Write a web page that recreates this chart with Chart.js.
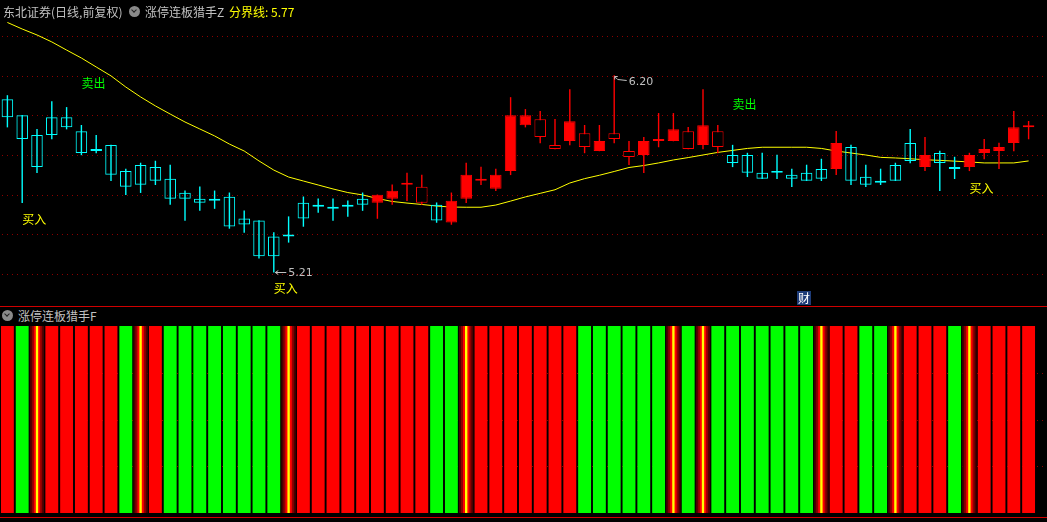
<!DOCTYPE html>
<html lang="zh">
<head>
    <meta charset="UTF-8">
    <title>涨停连板猎手</title>
    <script src="https://cdn.jsdelivr.net/npm/chart.js"></script>
    <style>
        body {
            margin: 0;
            background: #000;
            font-family: "Noto Sans CJK SC", sans-serif;
        }
        #wrap {
            position: relative;
            width: 1047px;
            height: 522px;
            overflow: hidden;
            background: #000;
        }
        canvas {
            position: absolute;
            left: 0;
        }
        .txt {
            position: absolute;
            font-size: 12px;
            line-height: 12px;
            white-space: nowrap;
            color: #c0c0c0;
        }
        .ico {
            position: absolute;
            width: 11px;
            height: 11px;
            border-radius: 50%;
            background: #8a8a8a;
        }
        .ico:after {
            content: '';
            position: absolute;
            left: 3px;
            top: 2px;
            width: 3px;
            height: 3px;
            border-right: 1.5px solid #202020;
            border-bottom: 1.5px solid #202020;
            transform: rotate(45deg);
        }
        .sep {
            position: absolute;
            left: 0;
            width: 1047px;
            height: 1px;
            background: #d00000;
        }
        .cai {
            position: absolute;
            width: 14px;
            height: 14px;
            background: #1e3c78;
            color: #fff;
            font-size: 12px;
            line-height: 14px;
            text-align: center;
        }
    </style>
</head>
<body>
<div id="wrap">
    <canvas id="kline" width="1047" height="306" style="top:0"></canvas>
    <div class="txt" style="left:3px;top:6px">东北证券(日线,前复权)</div>
    <div class="ico" style="left:129px;top:6px"></div>
    <div class="txt" style="left:145px;top:6px">涨停连板猎手Z</div>
    <div class="txt" id="fjx" style="left:229px;top:6px;color:#ffff00"></div>
    <div class="cai" style="left:797px;top:291px">财</div>

    <div class="sep" style="top:306px"></div>
    <div class="ico" style="left:2px;top:310px"></div>
    <div class="txt" style="left:18px;top:310px">涨停连板猎手F</div>
    <canvas id="fpanel" width="1047" height="187" style="top:326px"></canvas>
    <div class="sep" style="top:517px"></div>
</div>
<script>
    // daily K-line, 70 sessions
    const openP = [
        6.08, 6.00, 5.90, 5.99, 5.99, 5.92, 5.83, 5.85, 5.72, 5.75,
        5.74, 5.68, 5.61, 5.58, 5.58, 5.59, 5.48, 5.47, 5.39, 5.40,
        5.56, 5.55, 5.54, 5.55, 5.58, 5.56, 5.58, 5.65, 5.56, 5.55,
        5.46, 5.58, 5.67, 5.63, 5.72, 5.95, 5.89, 5.83, 5.87, 5.84,
        5.82, 5.88, 5.79, 5.80, 5.87, 5.87, 5.83, 5.85, 5.84, 5.80,
        5.80, 5.71, 5.72, 5.70, 5.71, 5.73, 5.73, 5.84, 5.69, 5.67,
        5.75, 5.86, 5.74, 5.81, 5.74, 5.74, 5.81, 5.82, 5.86, 5.94
    ];
    const highP = [
        6.10, 6.00, 5.93, 6.07, 6.04, 5.95, 5.90, 5.85, 5.73, 5.76,
        5.77, 5.75, 5.62, 5.64, 5.62, 5.61, 5.52, 5.47, 5.41, 5.49,
        5.59, 5.58, 5.58, 5.57, 5.61, 5.60, 5.65, 5.71, 5.70, 5.56,
        5.61, 5.76, 5.74, 5.73, 6.09, 6.03, 6.02, 5.98, 6.13, 5.95,
        5.95, 6.20, 5.87, 5.89, 6.01, 6.01, 5.94, 6.13, 5.95, 5.85,
        5.81, 5.81, 5.80, 5.73, 5.75, 5.78, 5.92, 5.85, 5.75, 5.73,
        5.76, 5.93, 5.89, 5.82, 5.79, 5.81, 5.88, 5.86, 6.02, 5.97
    ];
    const lowP = [
        5.94, 5.56, 5.71, 5.88, 5.93, 5.80, 5.81, 5.67, 5.60, 5.61,
        5.65, 5.55, 5.47, 5.52, 5.53, 5.43, 5.41, 5.28, 5.21, 5.36,
        5.44, 5.51, 5.47, 5.49, 5.52, 5.48, 5.55, 5.57, 5.55, 5.46,
        5.45, 5.56, 5.65, 5.62, 5.70, 5.94, 5.86, 5.83, 5.85, 5.81,
        5.82, 5.86, 5.75, 5.71, 5.84, 5.87, 5.83, 5.83, 5.81, 5.74,
        5.69, 5.68, 5.68, 5.64, 5.67, 5.67, 5.70, 5.65, 5.64, 5.65,
        5.67, 5.76, 5.72, 5.62, 5.68, 5.72, 5.78, 5.73, 5.82, 5.88
    ];
    const closeP = [
        5.99, 5.88, 5.74, 5.90, 5.94, 5.81, 5.82, 5.70, 5.64, 5.65,
        5.67, 5.58, 5.58, 5.56, 5.57, 5.44, 5.45, 5.29, 5.29, 5.39,
        5.48, 5.54, 5.53, 5.54, 5.55, 5.60, 5.62, 5.66, 5.64, 5.47,
        5.57, 5.70, 5.68, 5.70, 6.00, 6.00, 5.98, 5.85, 5.97, 5.91,
        5.87, 5.91, 5.82, 5.87, 5.88, 5.93, 5.92, 5.95, 5.92, 5.76,
        5.71, 5.68, 5.71, 5.68, 5.67, 5.68, 5.86, 5.67, 5.65, 5.66,
        5.67, 5.77, 5.80, 5.76, 5.73, 5.80, 5.83, 5.84, 5.94, 5.95
    ];
    // 涨停连板猎手Z strong-day flag (solid red candle)
    const zSignal = [
        0, 0, 0, 0, 0, 0, 0, 0, 0, 0,
        0, 0, 0, 0, 0, 0, 0, 0, 0, 0,
        0, 0, 0, 0, 0, 1, 1, 1, 0, 0,
        1, 1, 0, 1, 1, 1, 0, 0, 1, 0,
        1, 0, 0, 1, 1, 1, 0, 1, 0, 0,
        0, 0, 0, 0, 0, 0, 1, 0, 0, 0,
        0, 0, 1, 0, 0, 1, 1, 1, 1, 1
    ];
    // 分界线 (yellow line)
    const ma = [
        6.467, 6.434, 6.404, 6.369, 6.328, 6.288, 6.243, 6.198, 6.142, 6.092,
        6.047, 6.006, 5.966, 5.931, 5.896, 5.855, 5.820, 5.770, 5.724, 5.689,
        5.669, 5.649, 5.629, 5.611, 5.599, 5.581, 5.566, 5.558, 5.551, 5.543,
        5.538, 5.537, 5.537, 5.548, 5.568, 5.589, 5.607, 5.625, 5.659, 5.681,
        5.698, 5.717, 5.737, 5.747, 5.760, 5.775, 5.787, 5.800, 5.813, 5.823,
        5.833, 5.839, 5.839, 5.839, 5.839, 5.833, 5.820, 5.810, 5.800, 5.788,
        5.785, 5.781, 5.776, 5.773, 5.769, 5.765, 5.760, 5.760, 5.760, 5.770
    ];
    const buyIdx = [1, 18, 65];
    const sellIdx = [5, 49];
    const priceGrid = [5.2, 5.4, 5.6, 5.8, 6.0, 6.2, 6.4];

    // 涨停连板猎手F state: 1 red, 2 green, 3 signal
    const fState = [
        1, 2, 3, 1, 1, 1, 1, 1, 2, 3,
        1, 2, 2, 2, 2, 2, 2, 2, 2, 3,
        1, 1, 1, 1, 1, 1, 1, 1, 1, 2,
        2, 3, 1, 1, 1, 1, 1, 1, 1, 2,
        2, 2, 2, 2, 2, 3, 2, 3, 2, 2,
        2, 2, 2, 2, 2, 3, 1, 1, 2, 2,
        3, 1, 1, 1, 2, 3, 1, 1, 1, 1
    ];
    const fGrid = [0.25, 0.5, 0.75];

    const days = openP.map((_, i) => String(i + 1));

    document.getElementById('fjx').textContent = '分界线: ' + ma[ma.length - 1].toFixed(2);

    const candleColor = openP.map((o, i) => closeP[i] < o ? '#00ffff' : '#ff0000');
    const bodyFill = openP.map((o, i) => {
        if (closeP[i] < o) return 'rgba(0,0,0,0)';
        return zSignal[i] ? '#ff0000' : '#000000';
    });

    function dottedGrid(values) {
        return {
            id: 'dottedGrid',
            beforeDatasetsDraw(chart) {
                const ctx = chart.ctx, y = chart.scales.y;
                ctx.save();
                ctx.strokeStyle = '#8c0000';
                ctx.lineWidth = 1;
                ctx.setLineDash([1, 4]);
                values.forEach(v => {
                    const py = Math.round(y.getPixelForValue(v)) + 0.5;
                    ctx.beginPath();
                    ctx.moveTo(2, py);
                    ctx.lineTo(chart.width, py);
                    ctx.stroke();
                });
                ctx.restore();
            }
        };
    }

    const signalText = {
        id: 'signalText',
        afterDatasetsDraw(chart) {
            const ctx = chart.ctx, x = chart.scales.x, y = chart.scales.y;
            ctx.save();
            ctx.font = '12px "Noto Sans CJK SC"';
            ctx.textBaseline = 'top';
            ctx.textAlign = 'left';
            ctx.fillStyle = '#ffff00';
            buyIdx.forEach(i => ctx.fillText('买入', x.getPixelForValue(i), y.getPixelForValue(lowP[i] * 0.99)));
            ctx.fillStyle = '#00ff00';
            sellIdx.forEach(i => ctx.fillText('卖出', x.getPixelForValue(i), y.getPixelForValue(highP[i] * 1.04)));

            // highest / lowest marks
            const hi = Math.max(...highP), iHi = highP.indexOf(hi);
            const lo = Math.min(...lowP), iLo = lowP.indexOf(lo);
            ctx.strokeStyle = '#c0c0c0';
            ctx.fillStyle = '#c0c0c0';
            ctx.lineWidth = 1;
            ctx.font = '11px "DejaVu Sans"';
            ctx.textBaseline = 'middle';

            let px = x.getPixelForValue(iLo) + 0.5, py = Math.round(y.getPixelForValue(lo)) + 0.5;
            ctx.beginPath();
            ctx.moveTo(px + 1, py); ctx.lineTo(px + 12, py);
            ctx.moveTo(px + 1, py); ctx.lineTo(px + 4, py - 2);
            ctx.moveTo(px + 1, py); ctx.lineTo(px + 4, py + 2);
            ctx.stroke();
            ctx.fillText(lo.toFixed(2), px + 14, py + 1);

            px = x.getPixelForValue(iHi) + 0.5; py = Math.round(y.getPixelForValue(hi)) + 0.5;
            ctx.beginPath();
            ctx.moveTo(px, py); ctx.lineTo(px + 3, py + 3); ctx.lineTo(px + 12, py + 4);
            ctx.moveTo(px, py); ctx.lineTo(px, py + 3);
            ctx.moveTo(px, py); ctx.lineTo(px + 3, py);
            ctx.stroke();
            ctx.fillText(hi.toFixed(2), px + 14, py + 6);
            ctx.restore();
        }
    };

    new Chart(document.getElementById('kline'), {
        type: 'bar',
        data: {
            labels: days,
            datasets: [
                {
                    type: 'line',
                    data: ma,
                    borderColor: '#ffff00',
                    borderWidth: 1,
                    pointRadius: 0,
                    tension: 0,
                    order: 3
                },
                {
                    data: lowP.map((l, i) => [l, highP[i]]),
                    backgroundColor: candleColor,
                    barThickness: 1,
                    grouped: false,
                    inflateAmount: 0.2,
                    order: 2
                },
                {
                    data: openP.map((o, i) => [Math.min(o, closeP[i]), Math.max(o, closeP[i])]),
                    backgroundColor: bodyFill,
                    borderColor: candleColor,
                    borderWidth: 1,
                    borderSkipped: false,
                    barPercentage: 0.78,
                    categoryPercentage: 1,
                    grouped: false,
                    inflateAmount: 0,
                    order: 1
                }
            ]
        },
        options: {
            responsive: false,
            animation: false,
            events: [],
            layout: { padding: { left: 0, right: 11, top: 0, bottom: 0 } },
            plugins: { legend: { display: false }, tooltip: { enabled: false } },
            scales: {
                x: { display: false, offset: true },
                y: { display: false, min: 5.04, max: 6.58 }
            }
        },
        plugins: [dottedGrid(priceGrid), signalText]
    });

    const layers = [
        { w: 0.97, c: '#4a0000', order: 4 },
        { w: 0.70, c: '#900000', order: 3 },
        { w: 0.43, c: '#ff0000', order: 2 },
        { w: 0.16, c: '#ffff00', order: 1 }
    ];
    const fSets = [{
        data: fState.map(s => s === 3 ? null : 1),
        backgroundColor: fState.map(s => s === 2 ? '#00ff00' : '#ff0000'),
        barPercentage: 0.87,
        categoryPercentage: 1,
        grouped: false,
        inflateAmount: 0,
        order: 5
    }].concat(layers.map(l => ({
        data: fState.map(s => s === 3 ? 1 : null),
        backgroundColor: l.c,
        barPercentage: l.w,
        categoryPercentage: 1,
        grouped: false,
        inflateAmount: 0,
        order: l.order
    })));

    new Chart(document.getElementById('fpanel'), {
        type: 'bar',
        data: { labels: days, datasets: fSets },
        options: {
            responsive: false,
            animation: false,
            events: [],
            layout: { padding: { left: 0, right: 11, top: 0, bottom: 0 } },
            plugins: { legend: { display: false }, tooltip: { enabled: false } },
            scales: {
                x: { display: false, offset: true },
                y: { display: false, min: 0, max: 1 }
            }
        },
        plugins: [dottedGrid(fGrid)]
    });
</script>
</body>
</html>
